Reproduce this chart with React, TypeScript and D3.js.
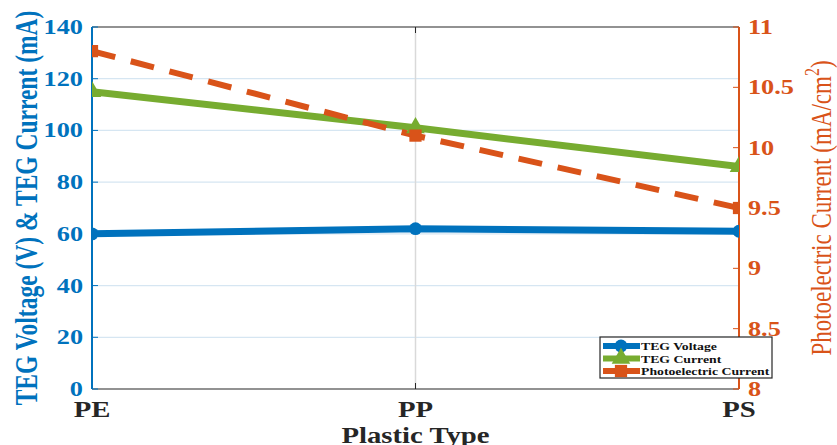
import React, { useEffect, useRef } from "react";
import * as d3 from "d3";

// data
const plastics = ["PE", "PP", "PS"];
const tegVoltage = [60, 62, 61];
const tegCurrent = [115, 101, 86];
const photoCurrent = [10.8, 10.1, 9.5];
const leftTicks = [0, 20, 40, 60, 80, 100, 120, 140];
const rightTicks = [8, 8.5, 9, 9.5, 10, 10.5, 11];

const W = 837;
const H = 445;
const blue = "#0072BD";
const green = "#77AC30";
const orange = "#D95319";
const font = "'Liberation Serif', 'Times New Roman', serif";
const SX = 1.25; // the figure's text is stretched sideways

export default function App() {
  const ref = useRef<SVGSVGElement>(null);

  useEffect(() => {
    const svg = d3.select(ref.current);
    svg.selectAll("*").remove();

    const left = 92, right = 739, top = 27, bottom = 389;
    const x = d3.scalePoint().domain(plastics).range([left, right]);
    const yL = d3.scaleLinear().domain([0, 140]).range([bottom, top]);
    const yR = d3.scaleLinear().domain([8, 11]).range([bottom, top]);

    const label = (px: number, py: number, str: string, size: number, fill: string,
      anchor = "start", weight = "bold") =>
      svg.append("text").attr("transform", `translate(${px},${py}) scale(${SX},1)`)
        .attr("text-anchor", anchor).attr("font-family", font).attr("font-weight", weight)
        .attr("font-size", size).attr("fill", fill).text(str);

    const defs = svg.append("defs");

    // grid
    svg.append("g").selectAll("line").data(leftTicks.slice(1, -1)).join("line")
      .attr("x1", left).attr("x2", right)
      .attr("y1", d => yL(d)).attr("y2", d => yL(d))
      .attr("stroke", "#d6e6f2").attr("stroke-width", 1.2);
    svg.append("line")
      .attr("x1", x("PP")!).attr("x2", x("PP")!).attr("y1", top).attr("y2", bottom)
      .attr("stroke", "#d9d9d9").attr("stroke-width", 1.5);

    // box
    svg.append("line").attr("x1", left).attr("x2", right).attr("y1", top).attr("y2", top)
      .attr("stroke", "#262626").attr("stroke-width", 1.2);
    svg.append("line").attr("x1", left).attr("x2", right).attr("y1", bottom).attr("y2", bottom)
      .attr("stroke", "#262626").attr("stroke-width", 1.2);
    plastics.forEach(p => {
      svg.append("line").attr("x1", x(p)!).attr("x2", x(p)!).attr("y1", bottom).attr("y2", bottom - 6)
        .attr("stroke", "#262626").attr("stroke-width", 1);
      svg.append("line").attr("x1", x(p)!).attr("x2", x(p)!).attr("y1", top).attr("y2", top + 6)
        .attr("stroke", "#262626").attr("stroke-width", 1);
    });

    // left axis
    svg.append("line").attr("x1", left).attr("x2", left).attr("y1", top).attr("y2", bottom)
      .attr("stroke", blue).attr("stroke-width", 2);
    leftTicks.forEach(t => {
      svg.append("line").attr("x1", left).attr("x2", left + 6).attr("y1", yL(t)).attr("y2", yL(t))
        .attr("stroke", blue).attr("stroke-width", 1);
      label(83, yL(t) + 7, String(t), 21, blue, "end");
    });
    svg.append("text")
      .attr("transform", `translate(37,208) rotate(-90) scale(1,1.3)`)
      .attr("text-anchor", "middle").attr("font-family", font).attr("font-weight", "bold")
      .attr("font-size", 23.5).attr("fill", blue).text("TEG Voltage (V) & TEG Current (mA)");

    // right axis
    svg.append("line").attr("x1", right).attr("x2", right).attr("y1", top).attr("y2", bottom)
      .attr("stroke", orange).attr("stroke-width", 2);
    rightTicks.forEach(t => {
      svg.append("line").attr("x1", right - 6).attr("x2", right).attr("y1", yR(t)).attr("y2", yR(t))
        .attr("stroke", orange).attr("stroke-width", 1);
      label(748, yR(t) + 7, String(t), 21, orange);
    });
    const rl = svg.append("text")
      .attr("transform", `translate(831,208) rotate(-90) scale(1,1.25)`)
      .attr("text-anchor", "middle").attr("font-family", font)
      .attr("font-size", 23).attr("fill", orange);
    rl.append("tspan").text("Photoelectric Current (mA/cm");
    rl.append("tspan").attr("dy", -10).attr("font-size", 16).text("2");
    rl.append("tspan").attr("dy", 10).text(")");

    // x labels
    plastics.forEach(p => label(x(p)!, 417, p, 23, "#262626", "middle"));
    label((left + right) / 2, 443, "Plastic Type", 23, "#262626", "middle");

    // series
    const lineL = d3.line<number>().x((_, i) => x(plastics[i])!).y(d => yL(d));
    const lineR = d3.line<number>().x((_, i) => x(plastics[i])!).y(d => yR(d));
    defs.append("clipPath").attr("id", "plotclip").append("rect")
      .attr("x", left).attr("y", top).attr("width", right - left).attr("height", bottom - top);
    const g = svg.append("g").attr("clip-path", "url(#plotclip)");

    g.append("path").datum(tegVoltage).attr("d", lineL).attr("fill", "none")
      .attr("stroke", blue).attr("stroke-width", 7);
    g.append("path").datum(tegCurrent).attr("d", lineL).attr("fill", "none")
      .attr("stroke", green).attr("stroke-width", 7);
    g.append("path").datum(photoCurrent).attr("d", lineR).attr("fill", "none")
      .attr("stroke", orange).attr("stroke-width", 6).attr("stroke-dasharray", "24,16");

    const circ = d3.symbol().type(d3.symbolCircle).size(130);
    const tri = d3.symbol().type(d3.symbolTriangle).size(150);
    const sq = d3.symbol().type(d3.symbolSquare).size(150);
    g.selectAll(".mv").data(tegVoltage).join("path")
      .attr("transform", (d, i) => `translate(${x(plastics[i])},${yL(d)})`)
      .attr("d", circ).attr("fill", blue);
    g.selectAll(".mc").data(tegCurrent).join("path")
      .attr("transform", (d, i) => `translate(${x(plastics[i])},${yL(d)})`)
      .attr("d", tri).attr("fill", green);
    g.selectAll(".mp").data(photoCurrent).join("path")
      .attr("transform", (d, i) => `translate(${x(plastics[i])},${yR(d)})`)
      .attr("d", sq).attr("fill", orange);

    // legend
    svg.append("rect").attr("x", 600).attr("y", 337).attr("width", 172).attr("height", 41)
      .attr("fill", "white").attr("stroke", "#262626").attr("stroke-width", 1.2);
    defs.append("clipPath").attr("id", "legclip").append("rect")
      .attr("x", 600).attr("y", 337).attr("width", 171).attr("height", 41);
    const lg = svg.append("g").attr("clip-path", "url(#legclip)");
    const items = [
      { name: "TEG Voltage", color: blue, sym: circ },
      { name: "TEG Current", color: green, sym: tri },
      { name: "Photoelectric Current", color: orange, sym: sq },
    ];
    items.forEach((it, i) => {
      const yy = 346 + i * 12.5;
      lg.append("line").attr("x1", 603).attr("x2", 640).attr("y1", yy).attr("y2", yy)
        .attr("stroke", it.color).attr("stroke-width", 6);
      lg.append("path").attr("transform", `translate(621,${yy})`).attr("d", it.sym).attr("fill", it.color);
      lg.append("text").attr("transform", `translate(641,${yy + 4}) scale(${SX},1)`)
        .attr("font-family", font).attr("font-weight", "bold").attr("font-size", 11)
        .attr("fill", "#111").text(it.name);
    });
  }, []);

  return (
    <svg ref={ref} width={W} height={H}
      style={{ position: "absolute", left: 0, top: 0, background: "white" }} />
  );
}
